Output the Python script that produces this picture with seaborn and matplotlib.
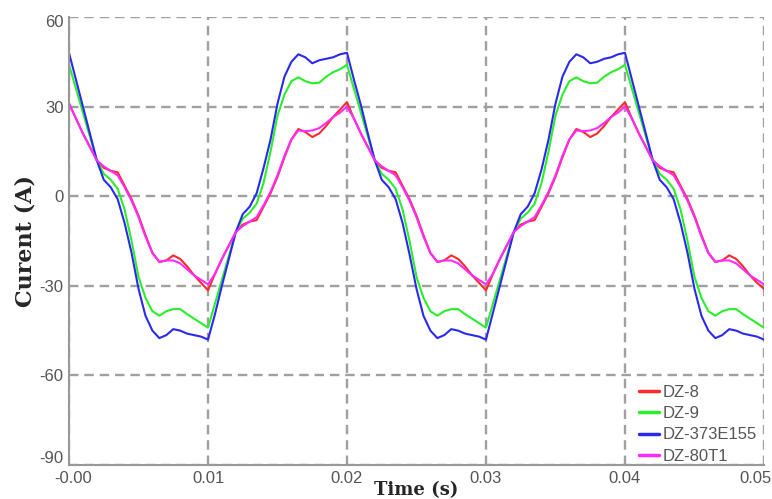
import numpy as np
import pandas as pd
import seaborn as sns
import matplotlib.pyplot as plt
from matplotlib.ticker import MultipleLocator
from matplotlib.transforms import ScaledTranslation

# sample times, 0.5 ms steps over 0.05 s
time_s = [round(i * 0.0005, 4) for i in range(101)]

dz8 = [31, 26, 21, 16.5, 12, 9.5, 8.5, 8, 3.5, -1, -6.5, -13, -19, -22, -21.5, -19.8, -21, -23.5, -26.5, -29,
       -31.5, -26, -21, -16.5, -12, -9.5, -8.5, -8, -3.5, 1, 6.5, 13, 19, 22.5, 21.5, 19.8, 21, 23.5, 26.5, 29,
       31.5, 26, 21, 16.5, 12, 9.5, 8.5, 8, 3.5, -1, -6.5, -13, -19, -22, -21.5, -19.8, -21, -23.5, -26.5, -29,
       -31.5, -26, -21, -16.5, -12, -9.5, -8.5, -8, -3.5, 1, 6.5, 13, 19, 22.5, 21.5, 19.8, 21, 23.5, 26.5, 29,
       31.5, 26, 21, 16.5, 12, 9.5, 8.5, 8, 3.5, -1, -6.5, -13, -19, -22, -21.5, -19.8, -21, -23.5, -26.5, -29, -31]

dz9 = [44, 36, 28, 20, 12, 7.5, 5.5, 2.5, -4.5, -15, -27, -34, -38.5, -40, -38.5, -37.8, -37.8, -39.5, -41, -42.5,
       -44, -36, -28, -20, -12, -7.5, -5.5, -2.5, 4.5, 15, 27, 34, 38.5, 39.8, 38.5, 37.8, 38, 40, 41.5, 42.5,
       44, 36, 28, 20, 12, 7.5, 5.5, 2.5, -4.5, -15, -27, -34, -38.5, -40, -38.5, -37.8, -37.8, -39.5, -41, -42.5,
       -44, -36, -28, -20, -12, -7.5, -5.5, -2.5, 4.5, 15, 27, 34, 38.5, 39.8, 38.5, 37.8, 38, 40, 41.5, 42.5,
       44, 36, 28, 20, 12, 7.5, 5.5, 2.5, -4.5, -15, -27, -34, -38.5, -40, -38.5, -37.8, -37.8, -39.5, -41, -42.5, -44]

dz373 = [48, 39, 30, 21, 12, 5.5, 3, -1, -9, -19, -31, -40, -45, -47.5, -46.5, -44.5, -45, -46, -46.5, -47,
         -48, -39.5, -30, -21, -12, -6, -3.5, 1, 9.5, 19, 31, 40, 45, 47.5, 46.5, 44.5, 45.5, 46, 46.5, 47.5,
         48, 39, 30.5, 21, 12, 5.5, 3, -1, -9, -19.5, -31, -40, -45, -47.5, -46.5, -44.5, -45, -46, -46.5, -47,
         -48, -39, -30, -21, -12, -6, -3.5, 1, 9, 19, 31, 40, 45, 47.5, 46.5, 44.5, 45, 46, 46.5, 47.5,
         48, 39, 30, 21, 12, 5.5, 3, -1, -9, -19, -31, -40, -45, -47.5, -46.5, -44.5, -45, -46, -46.5, -47, -48]

dz80 = [31, 26, 21, 16.5, 12, 10, 8.5, 7, 3, -1.5, -7, -13.5, -19, -22, -21.5, -21.5, -22.5, -24.5, -26.5, -28,
        -29.5, -26, -21, -16.5, -12, -10, -8.5, -7, -3, 1.5, 7, 13.5, 19, 22, 21.8, 22, 22.8, 24.5, 26.5, 28,
        30, 26, 21, 16.5, 12, 10, 8.5, 7, 3, -1.5, -7, -13.5, -19, -22, -21.5, -21.5, -22.5, -24.5, -26.5, -28,
        -29.5, -26, -21, -16.5, -12, -10, -8.5, -7, -3, 1.5, 7, 13.5, 19, 22, 21.8, 22, 22.8, 24.5, 26.5, 28,
        30, 26, 21, 16.5, 12, 10, 8.5, 7, 3, -1.5, -7, -13.5, -19, -22, -21.5, -21.5, -22.5, -24.5, -26.5, -28, -29.5]

names = ['DZ-8', 'DZ-9', 'DZ-373E155', 'DZ-80T1']
colors = ['#ff2a2a', '#2aee2a', '#2a2aee', '#ff2aff']
x_labels = ['-0.00', '0.01', '0.02', '0.03', '0.04', '0.05']
y_labels = ['-90', '-60', '-30', '0', '30', '60']

df = pd.DataFrame({'t': time_s * 4,
                   'I': dz8 + dz9 + dz373 + dz80,
                   'type': sum([[n] * len(time_s) for n in names], [])})

sns.set_style('white')
plt.rcParams['font.family'] = ['Liberation Sans', 'DejaVu Sans']

fig = plt.figure(figsize=(7.72, 4.99), dpi=100)
ax = fig.add_axes([0.0894, 0.068, 0.9002, 0.898])

sns.lineplot(data=df, x='t', y='I', hue='type', hue_order=names,
             palette=dict(zip(names, colors)), linewidth=1.5, ax=ax)

ax.set_xlim(0, 0.05)
ax.set_ylim(-90, 60)
ax.set_xticks([0, 0.01, 0.02, 0.03, 0.04, 0.05])
ax.set_xticklabels(x_labels)
ax.set_yticks([-90, -60, -30, 0, 30, 60])
ax.set_yticklabels(y_labels)
ax.xaxis.set_minor_locator(MultipleLocator(0.005))
ax.yaxis.set_minor_locator(MultipleLocator(15))
ax.tick_params(axis='both', which='both', direction='in', length=3, color='#777777',
               labelsize=12, labelcolor='#555555', pad=4)
ax.grid(True, which='major', linestyle=(0, (4, 2.5)), color='#a0a0a0', linewidth=1.7)

# nudge the edge labels inward like the original
def nudge(lbl, dx, dy):
    lbl.set_transform(lbl.get_transform() + ScaledTranslation(dx / 72, dy / 72, fig.dpi_scale_trans))

xl = ax.get_xticklabels()
nudge(xl[0], 3, 0)
nudge(xl[-1], -6, 0)
yl = ax.get_yticklabels()
nudge(yl[0], 0, 6)
nudge(yl[-1], 0, -3)

for s in ['top', 'right']:
    ax.spines[s].set_visible(False)
for s in ['left', 'bottom']:
    ax.spines[s].set_color('#999999')
    ax.spines[s].set_linewidth(1.5)

ax.set_xlabel('Time (s)', fontsize=13, fontweight='bold', family='DejaVu Serif', labelpad=-3)
ax.set_ylabel('Curent (A)', fontsize=16, fontweight='bold', family='DejaVu Serif', labelpad=2)

leg = ax.legend(loc='lower right', bbox_to_anchor=(1.0, -0.012), frameon=False, fontsize=12,
                handlelength=1.2, handletextpad=0.25, labelspacing=0.38, borderaxespad=0.0)
for txt in leg.get_texts():
    txt.set_color('#555555')
for line in leg.get_lines():
    line.set_linewidth(2.5)

plt.savefig('out.png', dpi=100)
